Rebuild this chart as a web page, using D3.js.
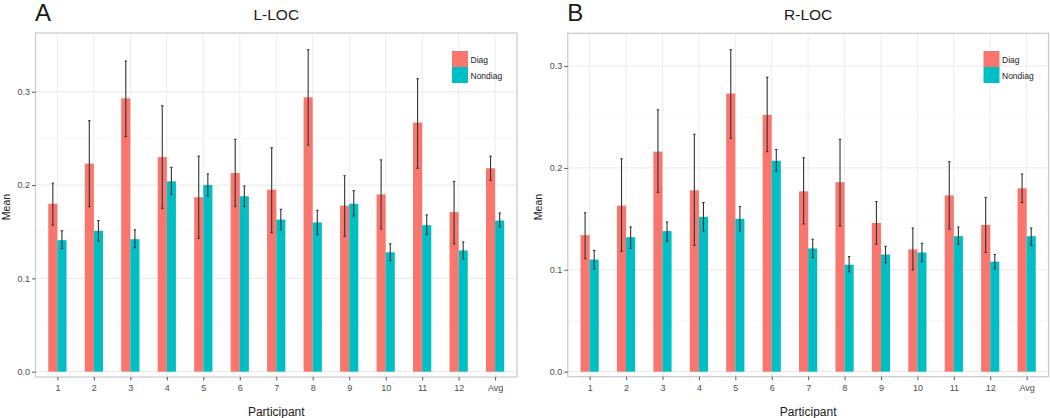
<!DOCTYPE html>
<html><head><meta charset="utf-8">
<script src="https://cdn.jsdelivr.net/npm/d3@7"></script>
<style>body{margin:0;background:#fff}svg{display:block;font-family:"Liberation Sans",Arial,sans-serif}</style>
</head><body><svg id="c" width="1050" height="418"></svg>
<script>
const categories = ["1","2","3","4","5","6","7","8","9","10","11","12","Avg"];
const groups = ["Diag","Nondiag"];
const colors = ["#F8766D","#00BFC4"];
const yTicks = [0.0,0.1,0.2,0.3];

// L-LOC
const lDiag      = [0.180,0.223,0.293,0.230,0.187,0.213,0.195,0.294,0.178,0.190,0.267,0.171,0.218];
const lDiagHi    = [0.202,0.269,0.333,0.285,0.231,0.249,0.240,0.345,0.210,0.227,0.314,0.204,0.231];
const lDiagLo    = [0.157,0.177,0.252,0.175,0.143,0.177,0.149,0.243,0.145,0.153,0.218,0.137,0.205];
const lNon       = [0.141,0.151,0.142,0.204,0.200,0.188,0.163,0.160,0.180,0.128,0.157,0.130,0.162];
const lNonHi     = [0.151,0.162,0.152,0.219,0.212,0.199,0.174,0.173,0.194,0.137,0.168,0.139,0.170];
const lNonLo     = [0.132,0.140,0.133,0.190,0.188,0.177,0.152,0.147,0.167,0.119,0.147,0.121,0.155];

// R-LOC
const rDiag      = [0.134,0.163,0.216,0.178,0.273,0.252,0.177,0.186,0.146,0.120,0.173,0.144,0.180];
const rDiagHi    = [0.156,0.209,0.257,0.233,0.316,0.289,0.210,0.228,0.167,0.141,0.206,0.171,0.194];
const rDiagLo    = [0.111,0.118,0.176,0.124,0.229,0.216,0.145,0.143,0.125,0.100,0.140,0.117,0.166];
const rNon       = [0.110,0.132,0.138,0.152,0.150,0.207,0.121,0.105,0.115,0.117,0.133,0.108,0.133];
const rNonHi     = [0.119,0.142,0.147,0.166,0.162,0.218,0.130,0.113,0.123,0.126,0.142,0.115,0.141];
const rNonLo     = [0.101,0.121,0.128,0.138,0.138,0.197,0.112,0.098,0.107,0.108,0.125,0.101,0.124];

const svg = d3.select("#c");

function panel(opt){
  const {x0,x1,y0,y1,domain,letter,title,series} = opt;
  const g = svg.append("g");
  // ggplot discrete: 0.6 unit expansion each side
  const x = d3.scalePoint().domain(categories).range([x0,x1]).padding(0.6);
  const step = x.step();
  const y = d3.scaleLinear().domain(domain).range([y1,y0]);
  const bw = step*0.25;

  // minor grid
  const minor = [0.05,0.15,0.25].filter(v=>v<domain[1]);
  g.selectAll(null).data(minor).enter().append("line")
    .attr("x1",x0).attr("x2",x1).attr("y1",d=>y(d)).attr("y2",d=>y(d))
    .attr("stroke","#f2f2f2").attr("stroke-width",0.6);
  // major grid
  g.selectAll(null).data(yTicks).enter().append("line")
    .attr("x1",x0).attr("x2",x1).attr("y1",d=>y(d)).attr("y2",d=>y(d))
    .attr("stroke","#e8e8e8").attr("stroke-width",1);
  g.selectAll(null).data(categories).enter().append("line")
    .attr("x1",d=>x(d)).attr("x2",d=>x(d)).attr("y1",y0).attr("y2",y1)
    .attr("stroke","#ececec").attr("stroke-width",1);

  series.forEach((s,si)=>{
    const off = si===0 ? -bw : 0;
    g.selectAll(null).data(categories).enter().append("rect")
      .attr("x",d=>x(d)+off).attr("width",bw)
      .attr("y",(d,i)=>y(s.v[i])).attr("height",(d,i)=>y(0)-y(s.v[i]))
      .attr("fill",colors[si]);
  });
  series.forEach((s,si)=>{
    const cx = d => x(d) + (si===0 ? -bw/2 : bw/2);
    g.selectAll(null).data(categories).enter().append("line")
      .attr("x1",cx).attr("x2",cx)
      .attr("y1",(d,i)=>y(s.hi[i])).attr("y2",(d,i)=>y(s.lo[i]))
      .attr("stroke","#333").attr("stroke-width",1.1);
    ["hi","lo"].forEach(k=>{
      g.selectAll(null).data(categories).enter().append("line")
        .attr("x1",d=>cx(d)-1.2).attr("x2",d=>cx(d)+1.2)
        .attr("y1",(d,i)=>y(s[k][i])).attr("y2",(d,i)=>y(s[k][i]))
        .attr("stroke","#333").attr("stroke-width",1.1);
    });
  });

  // border
  g.append("rect").attr("x",x0).attr("y",y0).attr("width",x1-x0).attr("height",y1-y0)
    .attr("fill","none").attr("stroke","#c8c8c8").attr("stroke-width",1.2);

  // y axis
  const ya = g.append("g").attr("transform",`translate(${x0},0)`)
    .call(d3.axisLeft(y).tickValues(yTicks).tickFormat(d3.format(".1f")).tickSize(3.5).tickPadding(2));
  ya.select(".domain").remove();
  ya.selectAll("line").attr("stroke","#555");
  ya.selectAll("text").attr("fill","#4d4d4d").attr("font-size",9).attr("font-family","Liberation Sans, Arial, sans-serif");

  // x axis
  const xa = g.append("g").attr("transform",`translate(0,${y1})`)
    .call(d3.axisBottom(x).tickSize(3.5).tickPadding(4));
  xa.select(".domain").remove();
  xa.selectAll("line").attr("stroke","#555");
  xa.selectAll("text").attr("fill","#4d4d4d").attr("font-size",9).attr("font-family","Liberation Sans, Arial, sans-serif");

  g.append("text").attr("x",(x0+x1)/2).attr("y",416).attr("text-anchor","middle")
    .attr("font-size",12).attr("fill","#1a1a1a").text("Participant");
  g.append("text").attr("transform",`translate(${x0-26},${(y0+y1)/2+2}) rotate(-90)`)
    .attr("text-anchor","middle").attr("font-size",10.5).attr("fill","#1a1a1a").text("Mean");
  g.append("text").attr("x",(x0+x1)/2).attr("y",20).attr("text-anchor","middle")
    .attr("font-size",15.5).attr("fill","#1a1a1a").text(title);
  g.append("text").attr("x",x0-0.5).attr("y",20.5).attr("font-size",24).attr("fill","#1a1a1a").text(letter);

  // legend
  const lx = x1-65, ly = 51;
  groups.forEach((gname,i)=>{
    g.append("rect").attr("x",lx).attr("y",ly+i*16).attr("width",16).attr("height",16).attr("fill",colors[i]);
    g.append("text").attr("x",lx+18.5).attr("y",ly+i*16+11.5).attr("font-size",8.5).attr("fill","#1a1a1a").text(gname);
  });
}

panel({x0:35.5,x1:517,y0:33,y1:377,domain:[-0.0057,0.3630],letter:"A",title:"L-LOC",
  series:[{v:lDiag,hi:lDiagHi,lo:lDiagLo},{v:lNon,hi:lNonHi,lo:lNonLo}]});
panel({x0:567.8,x1:1048.5,y0:33.3,y1:376.7,domain:[-0.0049,0.3321],letter:"B",title:"R-LOC",
  series:[{v:rDiag,hi:rDiagHi,lo:rDiagLo},{v:rNon,hi:rNonHi,lo:rNonLo}]});
</script></body></html>
